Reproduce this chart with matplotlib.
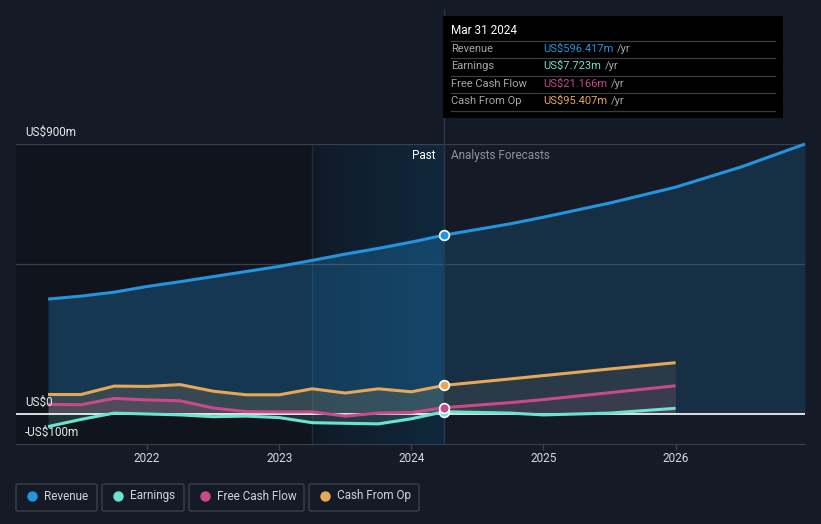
import matplotlib
matplotlib.use("Agg")
import matplotlib.pyplot as plt
import numpy as np
from matplotlib.patches import Rectangle, FancyBboxPatch
from matplotlib.colors import LinearSegmentedColormap

plt.rcParams['font.family'] = ['Roboto', 'DejaVu Sans']

# ---- data (US$ m) ----
hist_t = [2021.25, 2021.5, 2021.75, 2022.0, 2022.25, 2022.5, 2022.75, 2023.0, 2023.25, 2023.5, 2023.75, 2024.0, 2024.25]
rev_hist = [383, 393, 406, 425, 441, 458, 475, 492, 512, 533, 552, 573, 596.4]
earn_hist = [-42, -18, 3, 0, -3, -9, -7, -12, -29, -31, -33, -16, 7.7]
fcf_hist = [32, 31, 52, 47, 44, 20, 8, 7, 7, -7, 3, 5, 21.2]
cfo_hist = [65, 65, 93, 92, 98, 76, 64, 64, 84, 70, 84, 74, 95.4]

rev_fc_t = [2024.25, 2024.75, 2025.0, 2025.5, 2026.0, 2026.5, 2026.98]
rev_fc = [596.4, 634, 656, 703, 756, 824, 900]
fc_t = [2024.25, 2024.75, 2025.0, 2025.5, 2026.0]
earn_fc = [7.7, 3, -3, 3, 19]
fcf_fc = [21.2, 38, 48, 71, 94]
cfo_fc = [95.4, 117, 128, 150, 171]

names = ["Revenue", "Earnings", "Free Cash Flow", "Cash From Op"]
colors = ["#2394df", "#6de3cf", "#c94a8b", "#e6a857"]
tooltip_vals = ["US$596.417m", "US$7.723m", "US$21.166m", "US$95.407m"]
xticks = [2022, 2023, 2024, 2025, 2026]

BG = "#151b26"
W, H = 821, 524
fig = plt.figure(figsize=(W / 100, H / 100), dpi=100, facecolor=BG)

def fx(px):
    return px / W

def fy(py):
    return 1 - py / H

ax = fig.add_axes([fx(16), fy(444), fx(805) - fx(16), fy(144) - fy(444)])
ax.set_facecolor(BG)
x0 = 2021.25 - 32 / 132.0
x1 = 2026.98
ax.set_xlim(x0, x1)
ax.set_ylim(-100, 900)

now = 2024.25
# past region background
ax.axvspan(x0, now, color="#10141c", zorder=0, lw=0)
# highlighted last-year region with gradient
grad = np.linspace(0, 1, 256).reshape(1, -1)
cm = LinearSegmentedColormap.from_list("hl", ["#0f1a27", "#10283d"])
ax.imshow(grad, extent=[2023.25, now, -100, 900], aspect="auto", cmap=cm, zorder=0.5)
ax.axvline(2023.25, color="#1f2c3a", lw=1, zorder=0.6)

# gridlines
for v in [500, 900]:
    ax.axhline(v, color="#3a404b", lw=0.9, zorder=1)

# series
all_hist = [rev_hist, earn_hist, fcf_hist, cfo_hist]
all_fc = [rev_fc, earn_fc, fcf_fc, cfo_fc]
for i, (name, c) in enumerate(zip(names, colors)):
    th = np.array(hist_t)
    yh = np.array(all_hist[i], dtype=float)
    tf = np.array(rev_fc_t if i == 0 else fc_t)
    yf = np.array(all_fc[i], dtype=float)
    alpha = 0.28 if i == 0 else 0.16
    ax.fill_between(th, yh, 0, color=c, alpha=alpha, lw=0, zorder=2 + i * 0.1)
    ax.fill_between(tf, yf, 0, color=c, alpha=alpha * 0.6, lw=0, zorder=2 + i * 0.1)
    ax.plot(th, yh, color=c, lw=2.2, zorder=5 - i * 0.1, solid_capstyle="butt",
            solid_joinstyle="round", clip_on=False)
    ax.plot(tf, yf, color=c, lw=2.2, zorder=5 - i * 0.1, solid_capstyle="butt",
            solid_joinstyle="round", clip_on=False)

# zero line
ax.axhline(0, color="#ffffff", lw=1.2, zorder=4)

# markers at now
for i, c in enumerate(colors):
    ax.plot([now], [all_hist[i][-1]], "o", ms=7, color=c, mec="white", mew=1.2, zorder=7)

# now vertical line
ax.axvline(now, color="#2a3a4c", lw=1, zorder=3)
fig.add_artist(plt.Line2D([fx(443.5), fx(443.5)], [fy(144), fy(10)], color="#2a3a4c", lw=1, zorder=1))

# axis styling
for s in ["top", "right", "left"]:
    ax.spines[s].set_visible(False)
ax.spines["bottom"].set_color("#3a404b")
ax.set_yticks([])
ax.set_xticks(xticks)
ax.set_xticklabels([str(x) for x in xticks])
ax.tick_params(axis="x", colors="#3a404b", labelcolor="#d6d8dc", labelsize=8.5, length=4, width=1, pad=2)

# y labels
for txt, py in [("US$900m", 132), ("US$0", 402), ("-US$100m", 432)]:
    fig.text(fx(25), fy(py), txt, color="#e6e8ea", fontsize=8.5, va="center", ha="left", zorder=8)

# Past / forecasts labels
fig.text(fx(435), fy(156), "Past", color="#ffffff", fontsize=8.5, ha="right", va="center")
fig.text(fx(451), fy(156), "Analysts Forecasts", color="#8d929b", fontsize=8.5, ha="left", va="center")

# tooltip
fig.patches.append(Rectangle((fx(443), fy(118)), fx(783) - fx(443), fy(16) - fy(118),
                             transform=fig.transFigure, facecolor="#000000", edgecolor="none", zorder=10))
fig.text(fx(451), fy(31), "Mar 31 2024", color="#ffffff", fontsize=8.5, ha="left", va="center", zorder=11)
row_y = [49, 66, 84, 101]
sep_y = [41, 58, 76, 93, 111]
for sy in sep_y:
    fig.add_artist(plt.Line2D([fx(451), fx(775)], [fy(sy), fy(sy)], color="#3a3d42", lw=0.9, zorder=11))
val_texts = []
for name, c, v, ry in zip(names, colors, tooltip_vals, row_y):
    fig.text(fx(451), fy(ry), name, color="#a3a6ab", fontsize=8, ha="left", va="center", zorder=11)
    val_texts.append(fig.text(fx(543), fy(ry), v, color=c, fontsize=8, ha="left", va="center", zorder=11))

r = fig.canvas.get_renderer()
for t in val_texts:
    bb = t.get_window_extent(renderer=r)
    fig.text(bb.x1 / fig.dpi / fig.get_figwidth() + fx(4), t.get_position()[1], "/yr",
             color="#a3a6ab", fontsize=8, ha="left", va="center", zorder=11)

# legend
boxes = [(16, 97), (102, 184), (189, 304), (309, 419)]
for (bx0, bx1), name, c in zip(boxes, names, colors):
    fig.patches.append(FancyBboxPatch((fx(bx0), fy(511)), fx(bx1) - fx(bx0), fy(484) - fy(511),
                                      boxstyle="round,pad=0,rounding_size=0.003",
                                      transform=fig.transFigure, facecolor=BG, edgecolor="#3b404a", lw=1))
    fig.add_artist(plt.Line2D([fx(bx0 + 16)], [fy(496)], marker="o", ms=6.5, color=c, lw=0))
    fig.text(fx(bx0 + 28), fy(496), name, color="#d0d3d8", fontsize=8.5, ha="left", va="center")

fig.savefig("out.png", dpi=100, facecolor=BG)
